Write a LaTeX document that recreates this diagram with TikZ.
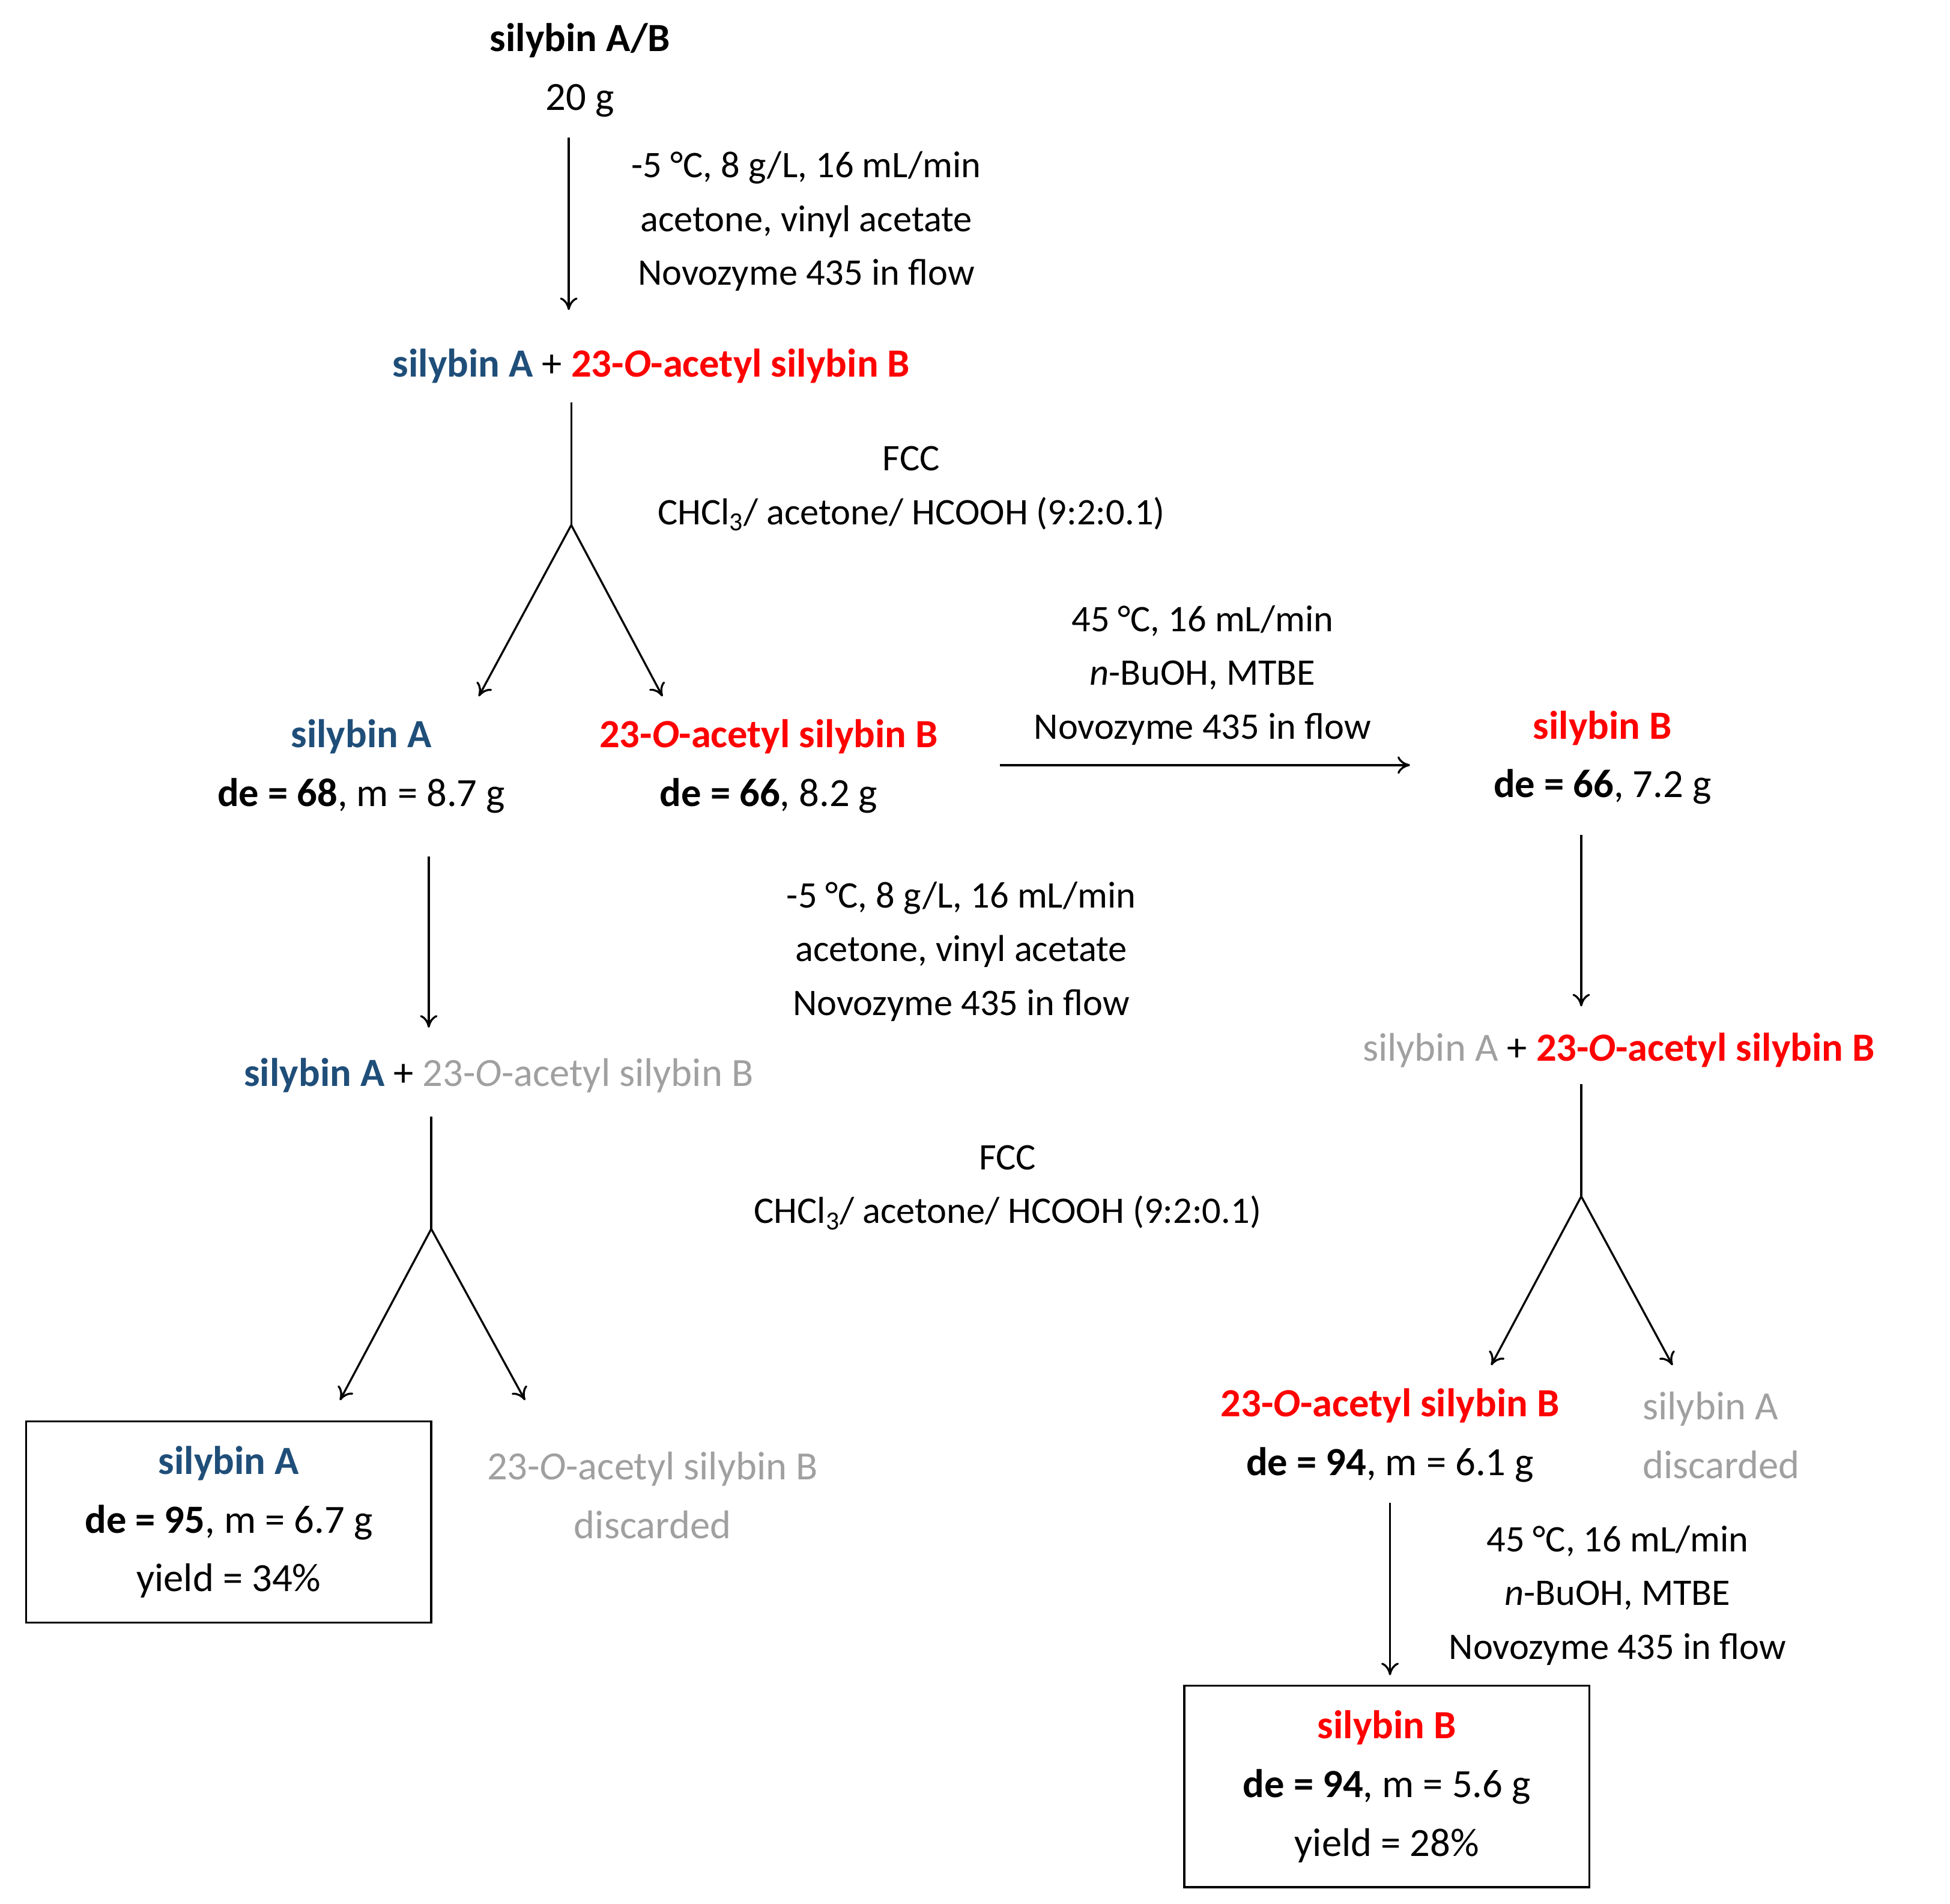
\documentclass[tikz,border=0pt]{standalone}
\usepackage{fontspec}
\setmainfont{Carlito}
\usetikzlibrary{arrows.meta}
\definecolor{sblue}{HTML}{1F4E79}
\definecolor{sred}{HTML}{FF0000}
\definecolor{sgrey}{HTML}{A0A0A0}
\begin{document}
\begin{tikzpicture}[x=1pt,y=-1pt,
  every node/.style={font=\fontsize{32}{47}\selectfont, align=center, inner sep=0pt},
  cond/.style={font=\fontsize{30}{43}\selectfont},
  ln/.style={line width=1.6pt},
  arr/.style={line width=1.6pt,-{To[length=10pt,width=14pt]}},
  box/.style={draw, line width=1.6pt, minimum width=324pt, minimum height=161pt}]
\useasboundingbox (0,0) rectangle (1560,1523);
\newcommand{\sA}{\textcolor{sblue}{\textbf{silybin A}}}
\newcommand{\sB}{\textcolor{sred}{\textbf{silybin B}}}
\newcommand{\acB}{\textcolor{sred}{\textbf{23-\textit{O}-acetyl silybin B}}}
\newcommand{\gacB}{\textcolor{sgrey}{23-\textit{O}-acetyl silybin B}}
% top
\node (top) at (464,56) {\textbf{silybin A/B}\\20 g};
\coordinate (a1s) at (455,110); \coordinate (a1e) at (455,248);
\draw[arr] (a1s) -- (a1e);
\node[cond] (c1) at (645,177) {-5 °C, 8 g/L, 16 mL/min\\acetone, vinyl acetate\\Novozyme 435 in flow};
\node (r2) at (521,293) {\sA{} + \acB};
\coordinate (l1s) at (457,322); \coordinate (j1) at (457,420);
\coordinate (j1a) at (383,557); \coordinate (j1b) at (530,557);
\draw[ln] (l1s) -- (j1);
\draw[arr] (j1) -- (j1a); \draw[arr] (j1) -- (j1b);
\node[cond] (f1) at (729,391) {FCC\\CHCl\textsubscript{3}/ acetone/ HCOOH (9:2:0.1)};
\node (nA) at (289,613) {\sA\\\textbf{de = 68}, m = 8.7 g};
\node (nB) at (615,613) {\acB\\\textbf{de = 66}, 8.2 g};
\node[cond] (c2) at (962,540) {45 °C, 16 mL/min\\\textit{n}-BuOH, MTBE\\Novozyme 435 in flow};
\coordinate (a2s) at (800,612); \coordinate (a2e) at (1128,612);
\draw[arr] (a2s) -- (a2e);
\node (sB1) at (1282,606) {\sB\\\textbf{de = 66}, 7.2 g};
% left branch
\coordinate (a3s) at (343,685); \coordinate (a3e) at (343,822);
\draw[arr] (a3s) -- (a3e);
\node[cond] (c3) at (769,761) {-5 °C, 8 g/L, 16 mL/min\\acetone, vinyl acetate\\Novozyme 435 in flow};
\node (r3) at (399,860) {\sA{} + \gacB};
\coordinate (l2s) at (345,893); \coordinate (j2) at (345,983);
\coordinate (j2a) at (272,1120); \coordinate (j2b) at (420,1120);
\draw[ln] (l2s) -- (j2);
\draw[arr] (j2) -- (j2a); \draw[arr] (j2) -- (j2b);
\node[cond] (f2) at (806,950) {FCC\\CHCl\textsubscript{3}/ acetone/ HCOOH (9:2:0.1)};
\node[box] (bA) at (183,1217.5) {\sA\\\textbf{de = 95}, m = 6.7 g\\yield = 34\%};
\node (dB) at (522,1196) {\gacB\\\textcolor{sgrey}{discarded}};
% right branch
\coordinate (a4s) at (1265,668); \coordinate (a4e) at (1265,805);
\draw[arr] (a4s) -- (a4e);
\node (r4) at (1295,840) {\textcolor{sgrey}{silybin A} + \acB};
\coordinate (l3s) at (1265,867); \coordinate (j3) at (1265,957);
\coordinate (j3a) at (1193,1092); \coordinate (j3b) at (1338,1092);
\draw[ln] (l3s) -- (j3);
\draw[arr] (j3) -- (j3a); \draw[arr] (j3) -- (j3b);
\node (nB2) at (1112,1148) {\acB\\\textbf{de = 94}, m = 6.1 g};
\node[anchor=west, align=left] (dA) at (1314,1148) {\textcolor{sgrey}{silybin A}\\\textcolor{sgrey}{discarded}};
\coordinate (a5s) at (1112,1202); \coordinate (a5e) at (1112,1340);
\draw[arr] (a5s) -- (a5e);
\node[cond] (c5) at (1294,1276) {45 °C, 16 mL/min\\\textit{n}-BuOH, MTBE\\Novozyme 435 in flow};
\node[box] (bB) at (1109.5,1429) {\sB\\\textbf{de = 94}, m = 5.6 g\\yield = 28\%};
\end{tikzpicture}
\end{document}
